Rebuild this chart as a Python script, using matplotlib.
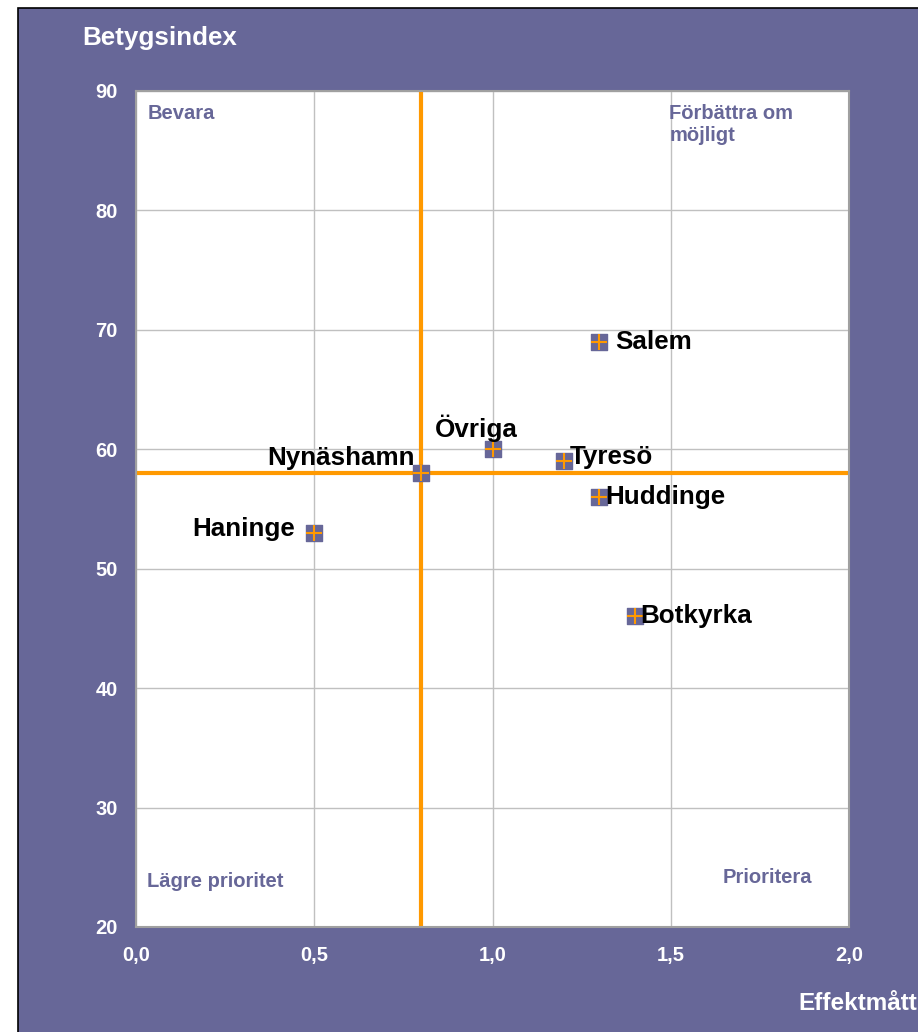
import matplotlib
matplotlib.use('Agg')
import matplotlib.pyplot as plt
from matplotlib.patches import Rectangle

# DATA
names = ['Salem', 'Övriga', 'Tyresö', 'Nynäshamn', 'Huddinge', 'Haninge', 'Botkyrka']
effekt = [1.3, 1.0, 1.2, 0.8, 1.3, 0.5, 1.4]
betyg = [69, 60, 59, 58, 56, 53, 46]
x_mean = 0.8
y_mean = 58
x_ticks = [0.0, 0.5, 1.0, 1.5, 2.0]
y_ticks = [20, 30, 40, 50, 60, 70, 80, 90]
quadrants = ['Bevara', 'Förbättra om\nmöjligt', 'Lägre prioritet', 'Prioritera']

purple = '#676798'
orange = '#FF9900'
plt.rcParams['font.family'] = ['Liberation Sans', 'DejaVu Sans']

fig = plt.figure(figsize=(9.18, 10.32), dpi=100)
fig.patch.set_facecolor('white')
# purple panel behind everything
fig.patches.append(Rectangle((18/918, -0.01), 1.0, 1 - 8/1032 + 0.01, transform=fig.transFigure,
                             facecolor=purple, edgecolor='black', linewidth=1.2, zorder=-5))

ax = fig.add_axes([136/918, 1 - 927/1032, 713/918, 836/1032])
ax.set_zorder(2)
ax.set_facecolor('white')
ax.set_xlim(0, 2)
ax.set_ylim(20, 90)
ax.set_xticks(x_ticks)
ax.set_yticks(y_ticks)
ax.set_xticklabels([f'{v:.1f}'.replace('.', ',') for v in x_ticks])
ax.set_yticklabels([str(v) for v in y_ticks])
ax.tick_params(length=0, colors='white', labelsize=14.5)
ax.tick_params(axis='y', pad=13)
ax.tick_params(axis='x', pad=14)
for lab in ax.get_xticklabels() + ax.get_yticklabels():
    lab.set_fontweight('bold')
ax.grid(True, color='#c0c0c0', linewidth=1)
ax.set_axisbelow(True)
for s in ax.spines.values():
    s.set_color('#a0a0a0')
    s.set_linewidth(1.5)

ax.axvline(x_mean, color=orange, linewidth=3, zorder=2)
ax.axhline(y_mean, color=orange, linewidth=3, zorder=2)

ax.scatter(effekt, betyg, marker='s', s=120, color=purple, zorder=3)
ax.scatter(effekt, betyg, marker='+', s=120, color=orange, linewidths=1.5, zorder=4)

offsets = {
    'Salem': (11, 0, 'left', 'center'),
    'Övriga': (-12, 15, 'center', 'center'),
    'Tyresö': (4, 3, 'left', 'center'),
    'Nynäshamn': (-5, 11, 'right', 'center'),
    'Huddinge': (4, 0, 'left', 'center'),
    'Haninge': (-14, 3, 'right', 'center'),
    'Botkyrka': (4, 0, 'left', 'center'),
}
for n, xv, yv in zip(names, effekt, betyg):
    dx, dy, ha, va = offsets[n]
    ax.annotate(n, (xv, yv), xytext=(dx, dy), textcoords='offset points',
                ha=ha, va=va, fontsize=18.7, fontweight='bold', color='black', zorder=5)

qkw = dict(fontsize=14.5, fontweight='bold', color=purple, transform=ax.transAxes)
ax.text(0.016, 0.985, quadrants[0], ha='left', va='top', **qkw)
ax.text(0.748, 0.985, quadrants[1], ha='left', va='top', linespacing=1.25, **qkw)
ax.text(0.016, 0.054, quadrants[2], ha='left', va='center', **qkw)
ax.text(0.823, 0.059, quadrants[3], ha='left', va='center', **qkw)

fig.text(82/918, 1 - 38/1032, 'Betygsindex', ha='left', va='center',
         fontsize=18.7, fontweight='bold', color='white')
fig.text(798/918, 1 - 1003/1032, 'Effektmått', ha='left', va='center',
         fontsize=17.5, fontweight='bold', color='white')

fig.savefig('out.png', dpi=100, facecolor=fig.get_facecolor())
